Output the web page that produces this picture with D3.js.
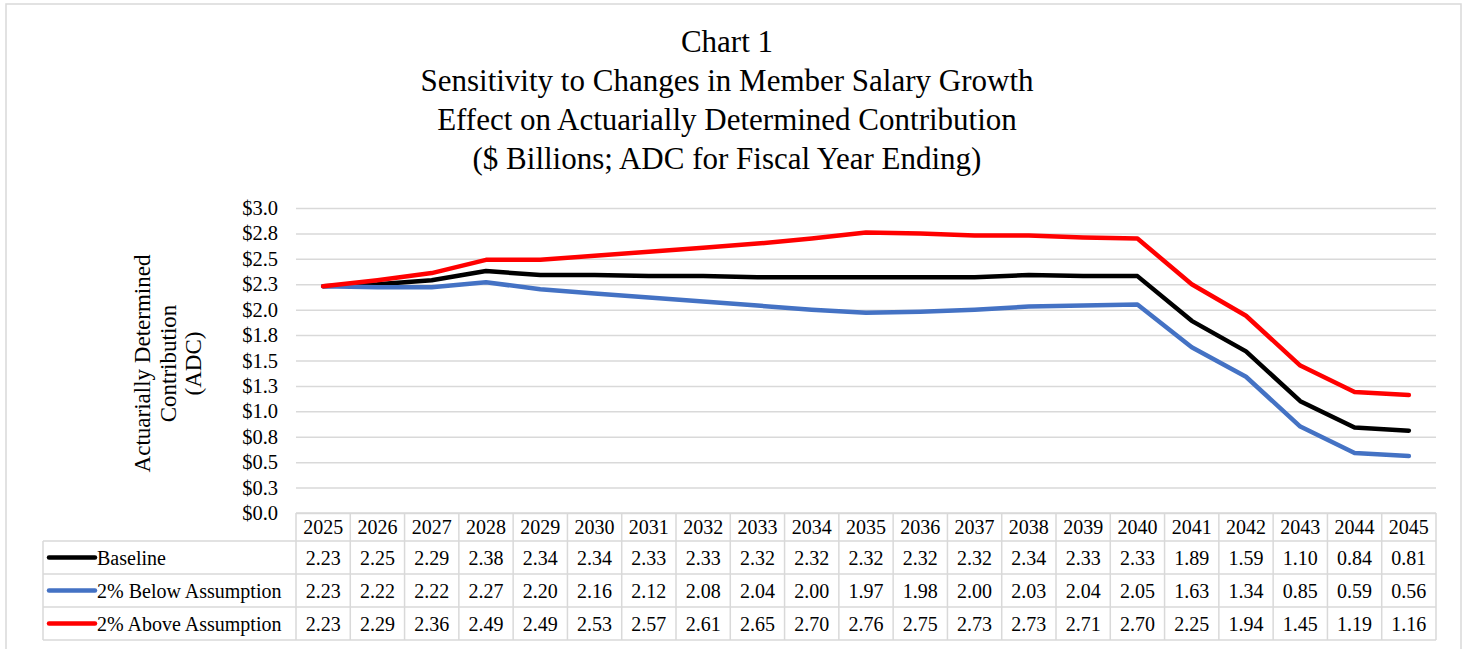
<!DOCTYPE html>
<html>
<head>
<meta charset="utf-8">
<script src="https://cdn.jsdelivr.net/npm/d3@7"></script>
<style>
  html, body { margin: 0; padding: 0; background: #fff; }
  svg { display: block; font-family: "Liberation Serif", "Times New Roman", serif; }
</style>
</head>
<body>
<div id="chart"></div>
<script>
// Chart data
const years = ['2025', '2026', '2027', '2028', '2029', '2030', '2031', '2032', '2033', '2034',
  '2035', '2036', '2037', '2038', '2039', '2040', '2041', '2042', '2043', '2044', '2045'];

const baseline = [2.23, 2.25, 2.29, 2.38, 2.34, 2.34, 2.33, 2.33, 2.32, 2.32,
  2.32, 2.32, 2.32, 2.34, 2.33, 2.33, 1.89, 1.59, 1.10, 0.84, 0.81];
const belowAssumption = [2.23, 2.22, 2.22, 2.27, 2.20, 2.16, 2.12, 2.08, 2.04, 2.00,
  1.97, 1.98, 2.00, 2.03, 2.04, 2.05, 1.63, 1.34, 0.85, 0.59, 0.56];
const aboveAssumption = [2.23, 2.29, 2.36, 2.49, 2.49, 2.53, 2.57, 2.61, 2.65, 2.70,
  2.76, 2.75, 2.73, 2.73, 2.71, 2.70, 2.25, 1.94, 1.45, 1.19, 1.16];

const seriesNames = ['Baseline', '2% Below Assumption', '2% Above Assumption'];
const seriesColors = ['#000000', '#4472C4', '#FF0000'];
const yTicks = [0, 0.25, 0.5, 0.75, 1, 1.25, 1.5, 1.75, 2, 2.25, 2.5, 2.75, 3];

const titleLines = [
  'Chart 1',
  'Sensitivity to Changes in Member Salary Growth',
  'Effect on Actuarially Determined Contribution',
  '($ Billions; ADC for Fiscal Year Ending)',
];
const yTitleLines = ['Actuarially Determined', 'Contribution', '(ADC)'];

const series = seriesNames.map((name, i) => ({
  name,
  color: seriesColors[i],
  values: [baseline, belowAssumption, aboveAssumption][i],
}));

const W = 1466;
const H = 649;
const plot = { left: 296, right: 1436, top: 208, bottom: 513 };
const gridColor = '#d9d9d9';

const svg = d3
  .select('#chart')
  .append('svg')
  .attr('width', W)
  .attr('height', H);

// Outer chart border
svg
  .append('rect')
  .attr('x', 6)
  .attr('y', 4)
  .attr('width', 1455)
  .attr('height', 660)
  .attr('fill', '#fff')
  .attr('stroke', gridColor)
  .attr('stroke-width', 1.5);

// Title
svg
  .append('g')
  .selectAll('text')
  .data(titleLines)
  .join('text')
  .attr('x', 727)
  .attr('y', (d, i) => 52 + i * 39)
  .attr('text-anchor', 'middle')
  .attr('font-size', '31px')
  .attr('fill', '#000')
  .text((d) => d);

// Scales
const x = d3.scaleBand().domain(years).range([plot.left, plot.right]).padding(0);
const y = d3.scaleLinear().domain([0, 3]).range([plot.bottom, plot.top]);
const cx = (d) => x(d) + x.bandwidth() / 2;

// Gridlines + y axis labels
const yAxis = d3
  .axisLeft(y)
  .tickValues(yTicks)
  .tickFormat((d) => '$' + d3.format('.1f')(d))
  .tickSize(-(plot.right - plot.left))
  .tickPadding(18);

const yAxisGroup = svg
  .append('g')
  .attr('transform', `translate(${plot.left},0)`)
  .call(yAxis);

yAxisGroup.select('.domain').remove();
yAxisGroup
  .selectAll('.tick line')
  .attr('stroke', gridColor)
  .attr('stroke-width', 1.5);
yAxisGroup
  .selectAll('.tick text')
  .attr('font-size', '20.5px')
  .attr('font-family', '"Liberation Serif", "Times New Roman", serif')
  .attr('fill', '#000');

// Y axis title (rotated, three lines)
svg
  .append('g')
  .attr('transform', `translate(150,${(plot.top + plot.bottom) / 2 + 3}) rotate(-90)`)
  .selectAll('text')
  .data(yTitleLines)
  .join('text')
  .attr('x', 0)
  .attr('y', (d, i) => i * 25.5)
  .attr('text-anchor', 'middle')
  .attr('font-size', '23px')
  .attr('fill', '#000')
  .text((d) => d);

// Lines
const line = d3
  .line()
  .x((d, i) => cx(years[i]))
  .y((d) => y(d));

svg
  .append('g')
  .selectAll('path')
  .data(series)
  .join('path')
  .attr('d', (d) => line(d.values))
  .attr('fill', 'none')
  .attr('stroke', (d) => d.color)
  .attr('stroke-width', 4.5)
  .attr('stroke-linejoin', 'round')
  .attr('stroke-linecap', 'round');

// Data table
const table = svg.append('g').attr('class', 'data-table');
const headerH = 28;
const rowH = 33;
const legendLeft = 43;
const tableTop = plot.bottom;
const rowTop = (i) => tableTop + headerH + i * rowH;

const borderLine = (x1, y1, x2, y2) =>
  table
    .append('line')
    .attr('x1', x1)
    .attr('y1', y1)
    .attr('x2', x2)
    .attr('y2', y2)
    .attr('stroke', gridColor)
    .attr('stroke-width', 1.5);

// horizontal borders
borderLine(plot.left, tableTop, plot.right, tableTop);
for (let i = 0; i <= series.length; i++) {
  borderLine(legendLeft, rowTop(i), plot.right, rowTop(i));
}
// vertical borders
borderLine(legendLeft, rowTop(0), legendLeft, rowTop(series.length));
years.forEach((yr) => {
  borderLine(x(yr), tableTop, x(yr), rowTop(series.length));
});
borderLine(plot.right, tableTop, plot.right, rowTop(series.length));

// header years
table
  .selectAll('.year')
  .data(years)
  .join('text')
  .attr('class', 'year')
  .attr('x', (d) => cx(d))
  .attr('y', tableTop + headerH / 2 + 7)
  .attr('text-anchor', 'middle')
  .attr('font-size', '20px')
  .attr('fill', '#000')
  .text((d) => d);

// rows
series.forEach((s, i) => {
  const mid = rowTop(i) + rowH / 2;

  table
    .append('line')
    .attr('x1', 49)
    .attr('x2', 95)
    .attr('y1', mid)
    .attr('y2', mid)
    .attr('stroke', s.color)
    .attr('stroke-width', 4.5)
    .attr('stroke-linecap', 'round');

  table
    .append('text')
    .attr('x', 97)
    .attr('y', mid + 7)
    .attr('font-size', '20px')
    .attr('fill', '#000')
    .text(s.name);

  table
    .append('g')
    .selectAll('text')
    .data(s.values)
    .join('text')
    .attr('x', (d, j) => cx(years[j]))
    .attr('y', mid + 7)
    .attr('text-anchor', 'middle')
    .attr('font-size', '20px')
    .attr('fill', '#000')
    .text((d) => d3.format('.2f')(d));
});
</script>
</body>
</html>
